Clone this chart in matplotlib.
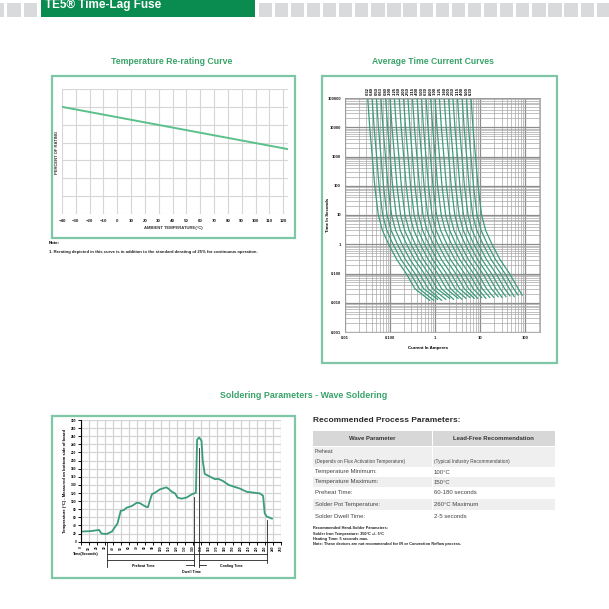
import matplotlib
matplotlib.use("Agg")
import matplotlib.pyplot as plt
from matplotlib.patches import Rectangle
from matplotlib.ticker import FixedLocator, FixedFormatter, NullFormatter, LogLocator

plt.rcParams['font.family'] = ['Liberation Sans', 'DejaVu Sans']

W = H = 609

GREEN_BAR = "#0a8c50"
GREEN_TITLE = "#3aa36a"
GREEN_BOX = "#7ec6a5"
GREEN_LINE = "#5cc08c"
GREEN_CURVE = "#3a9c7a"

# --- temperature re-rating curve ---
rerate_temp = [-40, 124]
rerate_pct = [120, 72.5]
rerate_xticks = list(range(-40, 121, 10))

# --- average time current curves ---
ratings = [0.032, 0.04, 0.05, 0.063, 0.08, 0.1, 0.125, 0.16, 0.2, 0.25, 0.315, 0.4,
           0.5, 0.63, 0.8, 1.0, 1.25, 1.6, 2.0, 2.5, 3.15, 4.0, 5.0, 6.3]
rating_labels = [".032", ".040", ".050", ".063", ".080", ".100", ".125", ".160", ".200",
                 ".250", ".315", ".400", ".500", ".630", ".800", "1.00", "1.25", "1.60",
                 "2.00", "2.50", "3.15", "4.00", "5.00", "6.30"]
# shape of a curve: shift to the right (decades of current) at each time
tc_times = [1e5, 1e4, 1e3, 100, 10, 3, 1, 0.3, 0.1, 0.03]
tc_shift = [0, 0.044, 0.10, 0.155, 0.235, 0.325, 0.465, 0.645, 0.855, 1.05]
tc_end_time = [0.012, 0.012, 0.013, 0.012, 0.013, 0.014, 0.013, 0.014, 0.013, 0.014, 0.015, 0.014,
               0.014, 0.015, 0.014, 0.015, 0.015, 0.016, 0.015, 0.016, 0.017, 0.016, 0.018, 0.018]
tc_end_shift = [1.38, 1.37, 1.36, 1.35, 1.34, 1.33, 1.32, 1.31, 1.30, 1.29, 1.28, 1.27,
                1.25, 1.24, 1.23, 1.22, 1.21, 1.20, 1.19, 1.18, 1.17, 1.16, 1.15, 1.14]
tc_ylabels = {1e-3: "0.001", 1e-2: "0.010", 1e-1: "0.100", 1: "1", 10: "10", 100: "100",
              1e3: "1000", 1e4: "10000", 1e5: "100000"}
tc_xlabels = {0.01: "0.01", 0.1: "0.100", 1: "1", 10: "10", 100: "100"}

# --- wave soldering profile ---
solder_t = [0, 12, 23, 26, 32.5, 39, 46, 50, 54, 57.5, 64, 70, 74, 78, 82, 84, 89, 93, 99,
            107, 110, 114, 118, 121, 126, 132.5, 139, 142, 144, 145.5, 148, 151, 152.5, 155,
            162, 168, 172, 177.5, 185, 191, 199, 207.5, 216, 224, 228, 230, 232.5, 239]
solder_T = [25, 26, 29, 20, 19, 25, 45, 76, 78, 84, 88, 96, 95, 90, 86, 85, 117, 121, 129,
            134, 130, 123, 119, 109, 106, 109, 117, 119, 121, 251, 257, 249, 201, 167,
            160, 154, 155, 150, 140, 136, 131, 123, 121, 119, 113, 70, 62, 57]
marker_t = [32.5, 141.7, 148, 232.5]
marker_top = [0, 109, 230, 53]
marker_bottom = [-61.6, -59, -61.6, -53.4]

# --- process parameter table ---
table_header = ["Wave Parameter", "Lead-Free Recommendation"]
table_param = ["Temperature Minimum:", "Temperature Maximum:", "Preheat Time:",
               "Solder Pot Temperature:", "Solder Dwell Time:"]
table_value = ["100°C", "150°C", "60-180 seconds", "260°C Maximum", "2-5 seconds"]
hand_notes = ["Recommended Hand-Solder Parameters:",
              "Solder Iron Temperature: 350°C +/- 5°C",
              "Heating Time: 5 seconds max.",
              "Note: These devices are not recommended for IR or Convection Reflow process."]


fig = plt.figure(figsize=(W / 100, H / 100), dpi=100)


def rect(l, t, r, b, **kw):
    fig.patches.append(Rectangle((l / W, 1 - b / H), (r - l) / W, (b - t) / H,
                                 transform=fig.transFigure, **kw))


def txt(x, y, s, **kw):
    fig.text(x / W, 1 - y / H, s, **kw)


def add_ax(l, t, r, b):
    return fig.add_axes([l / W, 1 - b / H, (r - l) / W, (b - t) / H])


# header strip
x = 258.5
while x < W:
    rect(x, 2.7, x + 13.3, 16.7, facecolor="#d9dadc", edgecolor="none")
    x += 16.1
for x in [-9.3, 7.3, 24.0]:
    rect(x, 2.7, x + 13.3, 16.7, facecolor="#d9dadc", edgecolor="none")
rect(41, -2, 255, 17.3, facecolor=GREEN_BAR, edgecolor="none")
txt(45, 8, "TE5® Time-Lag Fuse", color="white", fontsize=8.5, fontweight="bold",
    family=["Liberation Sans Narrow", "Liberation Sans"], va="baseline")

# ---------- Temperature re-rating ----------
txt(172, 62, "Temperature Re-rating Curve", color=GREEN_TITLE, fontsize=6.3,
    fontweight="bold", ha="center", va="center")
rect(52, 76, 295, 238, facecolor="none", edgecolor=GREEN_BOX, linewidth=1.6)
ax1 = add_ax(62, 89, 288, 214)
ax1.plot(rerate_temp, rerate_pct, color=GREEN_LINE, linewidth=1.4)
ax1.set_xlim(-40, 123.5)
ax1.set_ylim(0, 140)
ax1.set_xticks(rerate_xticks)
ax1.set_yticks(range(0, 141, 20))
ax1.set_yticklabels([])
ax1.grid(True, color="#d6d6d6", linewidth=0.8)
ax1.tick_params(length=0, labelsize=3.2, pad=3.5, colors="#222222")
for lab in ax1.get_xticklabels():
    lab.set_fontweight("bold")
for s in ax1.spines.values():
    s.set_visible(False)
txt(173, 228, "AMBIENT TEMPERATURE(°C)", fontsize=3.0, fontweight="bold",
    ha="center", va="center", color="#333333")
txt(56.5, 152, "PERCENT OF RATING", fontsize=3.0, fontweight="bold", rotation=90,
    ha="center", va="center", color="#333333")
txt(49, 243.5, "Note:", fontsize=3.2, fontweight="bold", va="center")
txt(49, 252, "1. Rerating depicted in this curve is in addition to the standard derating "
    "of 25% for continuous operation.", fontsize=3.1, fontweight="bold", va="center",
    color="#222222")

# ---------- Average time current curves ----------
txt(432.5, 62, "Average Time Current Curves", color=GREEN_TITLE, fontsize=6.2,
    fontweight="bold", ha="center", va="center")
rect(322, 76, 557, 363, facecolor="none", edgecolor=GREEN_BOX, linewidth=1.6)
ax2 = add_ax(345, 98, 540, 332)
ax2.set_xscale("log")
ax2.set_yscale("log")
ax2.set_xlim(0.01, 215)
ax2.set_ylim(1e-3, 1e5)
for r, lab, te, es in zip(ratings, rating_labels, tc_end_time, tc_end_shift):
    xs = [r * 10 ** s for s in tc_shift] + [r * 10 ** es]
    ts = tc_times + [te]
    ax2.plot(xs, ts, color=GREEN_CURVE, linewidth=0.9, solid_capstyle="round")
    ax2.text(r, 1.3e5, lab, rotation=90, fontsize=3.0, fontweight="bold",
             ha="center", va="bottom", clip_on=False, color="black")
ax2.yaxis.set_major_locator(FixedLocator(list(tc_ylabels)))
ax2.yaxis.set_major_formatter(FixedFormatter(list(tc_ylabels.values())))
ax2.xaxis.set_major_locator(FixedLocator(list(tc_xlabels)))
ax2.xaxis.set_major_formatter(FixedFormatter(list(tc_xlabels.values())))
ax2.yaxis.set_minor_locator(LogLocator(base=10, subs=range(2, 10), numticks=20))
ax2.xaxis.set_minor_locator(LogLocator(base=10, subs=range(2, 10), numticks=20))
ax2.xaxis.set_minor_formatter(NullFormatter())
ax2.yaxis.set_minor_formatter(NullFormatter())
ax2.grid(True, which="major", color="#8c8c8c", linewidth=0.9)
ax2.grid(True, which="minor", color="#a8a8a8", linewidth=0.5)
ax2.set_axisbelow(True)
ax2.tick_params(which="both", length=0, labelsize=3.0, pad=3, colors="#222222")
for lab in ax2.get_xticklabels() + ax2.get_yticklabels():
    lab.set_fontweight("bold")
for s in ax2.spines.values():
    s.set_color("#a0a0a0")
    s.set_linewidth(0.6)
txt(428, 348, "Current In Amperes", fontsize=3.2, fontweight="bold", ha="center", va="center")
txt(328.5, 215, "Time In Seconds", fontsize=3.2, fontweight="bold", rotation=90,
    ha="center", va="center")

# ---------- Wave soldering ----------
txt(304, 396, "Soldering Parameters - Wave Soldering", color=GREEN_TITLE, fontsize=6.4,
    fontweight="bold", ha="center", va="center")
rect(52, 416, 295, 578, facecolor="none", edgecolor=GREEN_BOX, linewidth=1.6)
ax3 = add_ax(80.7, 420, 280.7, 541.7)
ax3.plot(solder_t, solder_T, color=GREEN_CURVE, linewidth=1.3)
ax3.set_xlim(0, 250)
ax3.set_ylim(0, 300)
ax3.set_xticks(range(0, 251, 10))
ax3.set_yticks(range(0, 301, 20))
ax3.set_xticklabels([str(v) for v in range(0, 251, 10)], rotation=90)
ax3.grid(True, color="#d4d4d4", linewidth=0.9)
ax3.set_axisbelow(True)
ax3.tick_params(length=2, width=0.7, labelsize=2.3, pad=1, colors="#111111")
for lab in ax3.get_xticklabels() + ax3.get_yticklabels():
    lab.set_fontweight("bold")
ax3.spines["top"].set_visible(False)
ax3.spines["right"].set_visible(False)
ax3.spines["left"].set_linewidth(0.8)
ax3.spines["bottom"].set_linewidth(0.8)

lk = dict(color="#222222", linewidth=0.6, clip_on=False)
for t, top, bot in zip(marker_t, marker_top, marker_bottom):
    ax3.plot([t, t], [top, bot], **lk)
ax3.plot([marker_t[0], marker_t[3]], [-30.4, -30.4], **lk)
ax3.plot([marker_t[0], marker_t[1]], [-45.2, -45.2], **lk)
ax3.plot([marker_t[2], marker_t[3]], [-45.2, -45.2], **lk)
ax3.plot([132, marker_t[1]], [-57.5, -57.5], **lk)
ax3.plot([marker_t[2], 156], [-57.5, -57.5], **lk)
tk = dict(fontsize=2.6, fontweight="bold", ha="center", va="center", clip_on=False)
ax3.text(-9.6, -30.4, "Time(Seconds)", **{**tk, "ha": "left"})
ax3.text(78, -59, "Preheat Time", **tk)
ax3.text(188.5, -59, "Cooling Time", **tk)
ax3.text(138.5, -74, "Dwell Time", **tk)
txt(65, 481, "Temperature (°C) - Measured on bottom side of board", fontsize=3.0,
    fontweight="bold", rotation=90, ha="center", va="center")

# ---------- Recommended process parameters ----------
txt(313, 420, "Recommended Process Parameters:", fontsize=6.0, fontweight="bold",
    va="center", color="#2a2a2a")
rect(313, 431, 555, 446, facecolor="#d7d7d7", edgecolor="none")
txt(372.5, 438.5, table_header[0], fontsize=4.3, fontweight="bold", ha="center",
    va="center", color="#333333")
txt(493.5, 438.5, table_header[1], fontsize=4.3, fontweight="bold", ha="center",
    va="center", color="#333333")
rect(313, 447, 555, 466.5, facecolor="#efefef", edgecolor="none")
txt(315, 451.5, "Preheat:", fontsize=3.7, va="center", color="#444444")
txt(315, 461, "(Depends on Flux Activation Temperature)", fontsize=3.4, va="center",
    color="#444444")
txt(434, 461, "(Typical Industry Recommendation)", fontsize=3.4, va="center", color="#444444")
row_bounds = [(467.5, 476.5), (477, 487), (487.5, 498), (499, 510), (510.5, 521.5)]
row_fill = ["white", "#efefef", "white", "#efefef", "white"]
for (top, bot), fill, p, v in zip(row_bounds, row_fill, table_param, table_value):
    rect(313, top, 555, bot, facecolor=fill, edgecolor="none")
    yc = (top + bot) / 2
    txt(315, yc, p, fontsize=4.3, va="center", color="#444444")
    txt(434, yc, v, fontsize=4.3, va="center", color="#444444")
rect(431.5, 431, 432.5, 521.5, facecolor="white", edgecolor="none")
for i, line in enumerate(hand_notes):
    txt(313, 528 + 5.5 * i, line, fontsize=2.8, fontweight="bold", va="center",
        color="#222222")

fig.savefig("out.png", dpi=100)
